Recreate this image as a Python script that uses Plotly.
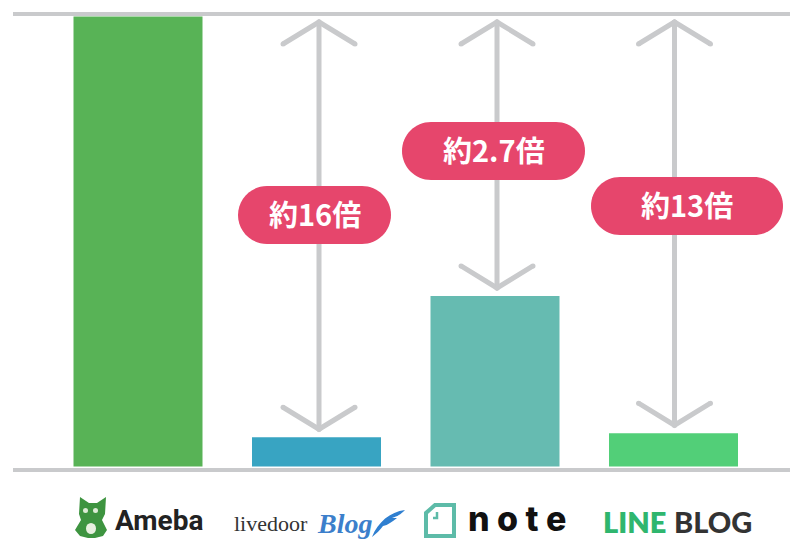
import plotly.graph_objects as go

categories = ["Ameba", "livedoor Blog", "note", "LINE BLOG"]
values = [100.0, 6.5, 37.9, 7.4]
bar_colors = ["#58B356", "#38A4C2", "#66BBB1", "#52CF78"]
ratio_labels = ["約16倍", "約2.7倍", "約13倍"]

W, H = 790, 539
PX_PER_X = 178.5
PX_PER_Y = 4.5
X0_PX = 138.0
Y0_PX = 466.5
GREY = "#C9CACC"
PINK = "#E6466C"

x_idx = list(range(len(categories)))
xr = [-X0_PX / PX_PER_X, (W - X0_PX) / PX_PER_X]
yr = [-(H - Y0_PX) / PX_PER_Y, Y0_PX / PX_PER_Y]


def px(x):
    return x / W


def py(y):
    return 1 - y / H


fig = go.Figure()
fig.add_trace(go.Bar(x=x_idx, y=values, width=129 / PX_PER_X, marker=dict(color=bar_colors, line_width=0),
                     hoverinfo="skip", showlegend=False))

shapes = []
annotations = []


def pshape(path, **kw):
    shapes.append(dict(type="path", xref="paper", yref="paper", path=path, layer="above", **kw))


def P(pts, close=True):
    s = "M" + " L".join(f"{px(a):.5f},{py(b):.5f}" for a, b in pts)
    return s + (" Z" if close else "")


def C(cmds):
    out = []
    for c in cmds:
        op, *vals = c
        coords = [f"{px(vals[i]):.5f},{py(vals[i+1]):.5f}" for i in range(0, len(vals), 2)]
        out.append(op + " ".join(coords))
    return " ".join(out)


# axis lines
for y in (14, 470):
    shapes.append(dict(type="line", xref="paper", yref="paper", x0=px(13), x1=1, y0=py(y), y1=py(y),
                       line=dict(color=GREY, width=4), layer="below"))

# arrows between each smaller bar and the top
arrow_x_off = [2.5, 2.0, 1.0]
for i, off in zip(x_idx[1:], arrow_x_off):
    v = values[i]
    cx = i + off / PX_PER_X
    top = (Y0_PX - 22) / PX_PER_Y
    bot = v + 8 / PX_PER_Y
    dx, dy = 36 / PX_PER_X, 22 / PX_PER_Y
    xs = [cx, cx, None, cx - dx, cx, cx + dx, None, cx - dx, cx, cx + dx]
    ys = [top, bot, None, top - dy, top, top - dy, None, bot + dy, bot, bot + dy]
    fig.add_trace(go.Scatter(x=xs, y=ys, mode="lines+markers", line=dict(color=GREY, width=5),
                             marker=dict(color=GREY, size=5, line_width=0),
                             hoverinfo="skip", showlegend=False))

# pills
pills = [(238, 391, 186, 244), (402, 585, 122, 180), (591, 783, 177, 235)]
for (x0, x1, y0, y1), lab in zip(pills, ratio_labels):
    r = (y1 - y0) / 2
    k = r * 0.5523
    path = C([
        ("M", x0 + r, y0), ("L", x1 - r, y0),
        ("C", x1 - r + k, y0, x1, y0 + r - k, x1, y0 + r),
        ("C", x1, y0 + r + k, x1 - r + k, y1, x1 - r, y1),
        ("L", x0 + r, y1),
        ("C", x0 + r - k, y1, x0, y0 + r + k, x0, y0 + r),
        ("C", x0, y0 + r - k, x0 + r - k, y0, x0 + r, y0),
    ]) + " Z"
    pshape(path, fillcolor=PINK, line_width=0)
    annotations.append(dict(xref="paper", yref="paper", x=px((x0 + x1) / 2), y=py((y0 + y1) / 2 - 2), text=lab,
                            showarrow=False, xanchor="center", yanchor="middle",
                            font=dict(family="Noto Sans CJK JP", size=29, color="white", weight=700)))

# Ameba mascot
G = "#3E9440"
pshape(P([(80, 497), (89, 503), (97, 503), (106, 497), (105, 514), (102, 520), (107, 530), (103, 536), (95, 538),
          (88, 538), (80, 536), (75, 530), (81, 520), (79, 514)]), fillcolor=G, line_width=0)
shapes.append(dict(type="circle", xref="paper", yref="paper", x0=px(83), x1=px(88), y0=py(513), y1=py(508),
                   fillcolor="#DDEBD5", line_width=0, layer="above"))
shapes.append(dict(type="circle", xref="paper", yref="paper", x0=px(93), x1=px(98), y0=py(513), y1=py(508),
                   fillcolor="#DDEBD5", line_width=0, layer="above"))
shapes.append(dict(type="circle", xref="paper", yref="paper", x0=px(86), x1=px(96), y0=py(534), y1=py(523),
                   fillcolor="#E8F0E0", line_width=0, layer="above"))

# feather
pshape(C([("M", 372, 537), ("C", 378, 522, 390, 512, 405, 510), ("C", 400, 515, 398, 516, 392, 518),
          ("L", 397, 518), ("C", 392, 522, 388, 525, 383, 526), ("C", 380, 530, 376, 534, 372, 537)]) + " Z",
       fillcolor="#2F7FD0", line_width=0)

# note icon
T = "#5DBBA8"
pshape(P([(435, 505), (454, 505), (454, 536), (426, 536), (426, 513)]), fillcolor="rgba(0,0,0,0)",
       line=dict(color=T, width=4))
pshape(P([(437, 512), (437, 518), (433, 518)], close=False), fillcolor="rgba(0,0,0,0)", line=dict(color=T, width=2.5))


def logo(x, y, text, family, size, color, weight=400, italic=False):
    annotations.append(dict(xref="paper", yref="paper", x=px(x), y=py(y), text=text, showarrow=False,
                            xanchor="left", yanchor="middle",
                            font=dict(family=family, size=size, color=color, weight=weight,
                                      style="italic" if italic else "normal")))


logo(113, 520, categories[0], "Roboto", 28, "#222222", 700)
logo(232, 523, "livedoor", "Liberation Serif", 22, "#333333")
logo(315, 523, "Blog", "Liberation Serif", 28, "#3C7FCB", 700, italic=True)
logo(466, 518, "n o t e", "Inter", 34, "#111111", 800)
logo(601, 521, "LINE", "Lato", 29, "#2FB66E", 800)
logo(672, 521, "BLOG", "Lato", 29, "#333333", 900)

fig.update_layout(
    width=W, height=H, margin=dict(l=0, r=0, t=0, b=0), paper_bgcolor="white", plot_bgcolor="white",
    xaxis=dict(range=xr, visible=False, fixedrange=True),
    yaxis=dict(range=yr, visible=False, fixedrange=True),
    shapes=shapes, annotations=annotations, showlegend=False,
)
fig.write_html("out.html", config={"displayModeBar": False},
               post_script="document.body.style.margin='0';document.body.style.overflow='hidden';")
